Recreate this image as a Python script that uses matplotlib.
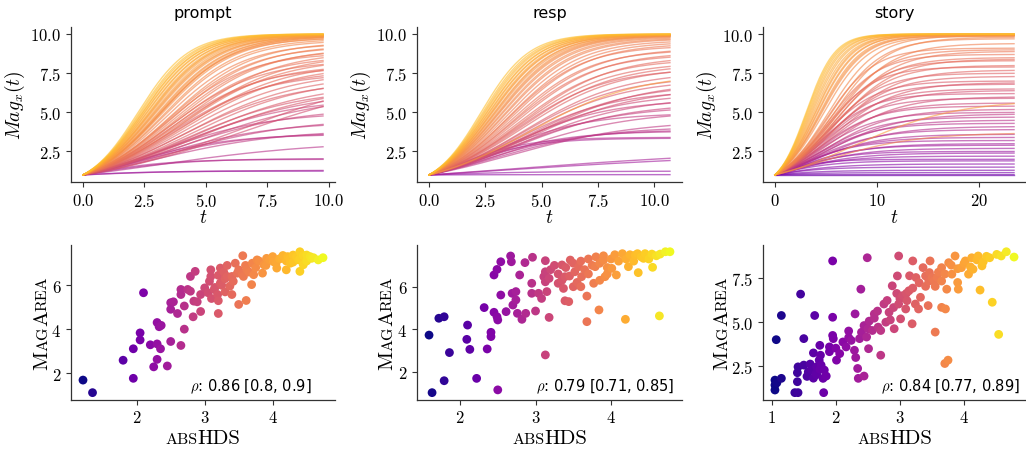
import matplotlib
matplotlib.use("Agg")
import matplotlib.pyplot as plt
import matplotlib.transforms as mtransforms
from matplotlib.ticker import MultipleLocator
import numpy as np

plt.rcParams["font.family"] = "cmr10"
plt.rcParams["mathtext.fontset"] = "cm"
plt.rcParams["axes.formatter.use_mathtext"] = True

# ---- scatter data (absHDS, MagArea) ----
prompt_hds = [1.21, 1.35, 1.95, 1.80, 1.95, 2.05, 2.05, 2.10, 2.20, 2.30, 2.33, 2.36, 2.30, 2.35,
              2.30, 2.25, 2.45, 2.50, 2.50, 2.54, 2.50, 2.60, 2.65, 2.70, 2.65, 2.65, 2.75, 2.70,
              2.79, 2.84, 2.79, 2.86, 2.83, 2.94, 2.89, 2.94, 3.00, 3.09, 3.09, 3.07, 3.05, 3.14,
              3.19, 3.20, 3.23, 3.23, 3.28, 3.33, 3.33, 3.37, 3.40, 3.42, 3.45, 3.48, 3.50, 3.56,
              3.61, 3.57, 3.62, 3.69, 3.72, 3.77, 3.85, 3.87, 3.91, 4.01, 4.06, 4.13, 4.20, 4.22,
              4.26, 4.30, 4.38, 4.40, 4.40, 4.45, 4.50, 4.57, 4.67, 4.74, 3.60, 3.70, 3.75, 3.80,
              3.90, 3.95, 4.00, 4.05, 4.10, 4.15, 4.20, 4.25, 4.30, 4.35, 4.40, 4.45, 4.50, 4.55,
              4.60, 3.50, 3.55, 3.65, 3.30, 3.20, 3.25, 3.15, 3.10, 3.20, 3.30, 3.40]
prompt_area = [1.70, 1.13, 1.78, 2.60, 3.12, 3.84, 3.52, 5.66, 3.30, 4.31, 4.12, 4.18, 3.34, 3.12,
               2.64, 2.30, 2.34, 3.45, 5.21, 5.25, 4.91, 4.72, 3.27, 4.01, 5.81, 5.58, 5.81, 5.06,
               5.73, 5.28, 6.40, 6.63, 4.57, 4.81, 5.25, 5.58, 5.88, 6.70, 6.40, 6.18, 5.66, 5.81,
               5.58, 4.72, 6.10, 6.78, 6.60, 6.90, 6.40, 5.96, 5.58, 6.18, 7.00, 6.55, 5.13, 7.34,
               5.31, 6.40, 6.70, 6.03, 6.48, 7.15, 6.55, 6.93, 7.22, 7.07, 6.78, 7.22, 6.70, 7.30,
               7.00, 7.37, 7.15, 7.52, 6.63, 6.93, 7.37, 7.22, 7.15, 7.25, 6.90, 7.00, 6.80, 7.10,
               6.90, 7.15, 7.30, 7.00, 7.20, 7.35, 7.10, 7.20, 7.05, 7.30, 7.20, 7.35, 7.10, 7.30,
               7.25, 6.70, 6.50, 6.60, 6.30, 6.45, 6.00, 5.90, 5.40, 5.30, 5.70, 6.40]

resp_hds = [1.59, 1.63, 1.72, 1.79, 1.79, 1.86, 2.09, 2.10, 2.13, 2.22, 2.32, 2.36, 2.41, 2.41,
            2.45, 2.45, 2.49, 2.50, 2.50, 2.49, 2.54, 2.54, 2.61, 2.67, 2.68, 2.69, 2.70, 2.74,
            2.74, 2.76, 2.79, 2.82, 2.86, 2.87, 2.95, 2.95, 2.96, 3.00, 3.04, 3.08, 3.11, 3.13,
            3.13, 3.15, 3.13, 3.18, 3.18, 3.13, 3.30, 3.35, 3.37, 3.39, 3.39, 3.44, 3.46, 3.52,
            3.57, 3.61, 3.68, 3.68, 3.77, 3.79, 3.84, 3.90, 3.92, 4.01, 4.07, 4.19, 4.23, 4.32,
            4.36, 4.43, 4.54, 4.55, 4.64, 4.65, 4.72, 4.78, 3.40, 3.50, 3.60, 3.65, 3.70, 3.75,
            3.80, 3.85, 3.90, 3.95, 4.00, 4.05, 4.10, 4.15, 4.20, 4.25, 4.30, 4.35, 4.40, 4.45,
            4.50, 4.60, 3.30, 3.35, 3.45, 3.55, 3.70, 3.85, 3.95, 3.25, 3.20, 3.50, 3.60]
resp_area = [3.73, 1.03, 4.52, 4.59, 1.59, 2.91, 3.53, 4.20, 3.06, 1.70, 5.02, 3.08, 3.86, 3.66,
             6.55, 4.80, 4.59, 4.44, 1.16, 6.81, 7.17, 5.61, 4.83, 7.44, 7.17, 5.69, 5.14, 5.77,
             5.38, 4.75, 6.55, 4.47, 7.13, 4.75, 6.16, 5.69, 7.38, 4.86, 5.69, 5.45, 6.47, 7.22,
             6.70, 5.77, 2.80, 6.39, 4.56, 6.23, 6.16, 7.02, 5.92, 6.47, 5.34, 5.30, 7.25, 6.70,
             6.94, 6.47, 5.56, 4.36, 6.16, 6.94, 4.91, 7.25, 6.47, 6.86, 6.55, 4.47, 6.94, 7.48,
             6.66, 7.33, 7.53, 6.91, 4.63, 7.53, 7.64, 7.64, 6.90, 7.10, 7.20, 6.80, 7.30, 7.00,
             7.40, 7.10, 7.45, 6.90, 7.30, 7.50, 7.20, 7.55, 7.30, 7.50, 7.20, 7.55, 7.40, 7.55,
             7.30, 7.45, 6.60, 6.30, 6.50, 6.20, 6.60, 6.30, 6.60, 7.00, 6.80, 6.00, 6.00]

story_hds = [1.07, 1.05, 1.05, 1.05, 1.08, 1.15, 1.15, 1.36, 1.41, 1.40, 1.40, 1.41, 1.45, 1.50,
             1.50, 1.57, 1.62, 1.65, 1.67, 1.69, 1.70, 1.74, 1.75, 1.76, 1.77, 1.80, 1.81, 1.82,
             1.85, 1.90, 1.95, 1.95, 1.95, 1.96, 2.01, 2.06, 2.11, 2.16, 2.20, 2.24, 2.29, 2.30,
             2.31, 2.34, 2.35, 2.37, 2.39, 2.44, 2.44, 2.48, 2.49, 2.51, 2.52, 2.60, 2.57, 2.66,
             2.70, 2.70, 2.75, 2.78, 2.83, 2.88, 2.91, 2.96, 2.98, 2.98, 3.01, 3.04, 3.09, 3.11,
             3.14, 3.19, 3.20, 3.24, 3.29, 3.32, 3.36, 3.40, 3.44, 3.47, 3.46, 3.55, 3.53, 3.58,
             3.65, 3.70, 3.75, 3.71, 3.65, 3.73, 3.76, 3.81, 3.86, 3.90, 3.91, 3.96, 4.02, 4.07,
             4.12, 4.14, 4.25, 4.22, 4.28, 4.40, 4.44, 4.51, 4.54, 4.58, 4.66, 4.78, 3.00, 3.10,
             3.20, 3.30, 3.40, 3.50, 3.60, 3.70, 3.80, 3.90, 4.00, 4.10, 4.20, 4.30, 4.35, 3.55,
             3.65, 3.45, 3.25, 3.15, 2.80, 2.90, 2.95, 2.85, 2.60, 2.65, 2.50, 2.40, 2.20, 2.00,
             1.90, 1.75, 1.60, 1.55, 1.65, 1.70]
story_area = [3.98, 1.69, 1.41, 1.13, 1.54, 1.79, 5.35, 0.98, 0.98, 1.60, 2.11, 2.44, 6.56, 4.04,
              2.54, 2.16, 2.26, 3.23, 5.35, 2.07, 2.44, 2.82, 3.66, 3.10, 2.54, 1.79, 0.98, 2.26,
              1.92, 3.57, 8.44, 5.25, 4.22, 4.04, 2.82, 3.19, 3.85, 3.57, 4.47, 3.94, 3.38, 5.44,
              2.97, 2.35, 1.79, 4.04, 6.84, 1.92, 4.78, 4.13, 8.62, 3.47, 5.03, 5.44, 4.50, 4.69,
              3.10, 4.50, 6.00, 4.97, 5.53, 7.03, 4.60, 7.59, 6.00, 8.72, 5.16, 6.47, 5.72, 6.19,
              6.75, 4.88, 8.44, 6.00, 5.72, 6.38, 8.06, 7.59, 5.91, 8.44, 7.78, 4.41, 7.31, 7.50,
              5.81, 2.63, 2.82, 5.72, 8.06, 6.84, 8.34, 7.69, 8.72, 7.22, 6.84, 8.06, 8.44, 7.69,
              8.62, 7.97, 6.79, 8.72, 8.16, 8.62, 6.10, 8.81, 4.28, 8.72, 8.96, 8.66, 6.30, 6.60,
              6.90, 7.20, 7.00, 7.50, 7.80, 7.70, 8.20, 8.00, 8.30, 8.10, 8.50, 8.40, 8.70, 7.00,
              7.30, 7.30, 7.50, 7.60, 6.20, 5.80, 6.60, 5.10, 5.20, 5.60, 4.60, 4.40, 4.10, 3.50,
              3.30, 2.30, 2.60, 1.90, 1.80, 2.00]

# ---- fitted curves: asymptote K, rate r, absHDS of the story (for colour) ----
prompt_K = [10.0, 10.0, 10.0, 9.98, 10.0, 9.97, 9.99, 9.95, 9.98, 9.96, 9.94, 9.97, 9.93, 9.95,
            9.9, 9.92, 9.9, 9.88, 9.9, 9.85, 9.87, 9.8, 9.75, 9.7, 9.6,
            9.5, 9.4, 9.3, 9.2, 9.1, 9.0, 8.9, 8.8, 8.7, 8.6, 8.45, 8.3, 8.2, 8.05, 8.0, 7.9,
            7.7, 7.6, 7.5, 7.4,
            7.2, 7.0, 6.9, 6.7, 6.5, 7.8, 7.4, 6.3, 6.1, 5.9,
            5.3, 5.0, 4.6, 4.4, 3.9, 3.7, 3.6, 3.2, 2.0, 2.05, 1.3, 1.25]
prompt_rate = [0.98, 0.95, 0.93, 0.91, 0.9, 0.88, 0.87, 0.85, 0.84, 0.82, 0.81, 0.8, 0.79, 0.77,
               0.76, 0.75, 0.74, 0.72, 0.71, 0.7, 0.69, 0.68, 0.7, 0.66, 0.65,
               0.6, 0.63, 0.58, 0.6, 0.55, 0.57, 0.52, 0.6, 0.5, 0.55, 0.5, 0.56, 0.48, 0.53,
               0.47, 0.55, 0.5, 0.46, 0.52, 0.44,
               0.42, 0.45, 0.4, 0.38, 0.42, 0.3, 0.29, 0.4, 0.37, 0.42,
               0.4, 0.45, 0.38, 0.42, 0.38, 0.45, 0.5, 0.28, 0.6, 0.5, 0.35, 0.5]
prompt_col = [4.75, 4.7, 4.65, 4.6, 4.55, 4.5, 4.45, 4.42, 4.38, 4.35, 4.3, 4.27, 4.22, 4.2,
              4.15, 4.12, 4.08, 4.05, 4.02, 3.98, 3.95, 3.92, 3.9, 3.86, 3.82,
              3.75, 3.72, 3.68, 3.62, 3.6, 3.55, 3.5, 3.48, 3.45, 3.42, 3.4, 3.36, 3.33, 3.3,
              3.28, 3.25, 3.2, 3.15, 3.12, 3.1,
              3.05, 3.0, 2.95, 2.9, 2.85, 2.8, 2.75, 2.7, 2.6, 2.55,
              2.5, 2.45, 2.4, 2.35, 2.3, 2.25, 2.2, 2.1, 2.05, 1.95, 1.8, 1.35]

resp_K = [10.0, 10.0, 9.98, 10.0, 9.97, 9.99, 9.95, 9.98, 9.96, 9.94, 9.97, 9.93, 9.95, 9.9,
          9.92, 9.9, 9.88, 9.85, 9.8, 9.75, 9.7,
          9.6, 9.5, 9.4, 9.25, 9.1, 9.0, 8.85, 8.7, 8.6, 8.4, 8.2, 8.1,
          7.9, 7.8, 7.6, 7.5, 7.3, 7.1, 7.0, 6.8, 6.6, 6.4, 6.2, 6.0, 5.8, 5.6,
          5.4, 5.1, 4.95, 4.5, 4.1, 3.9, 3.8, 3.4, 3.35, 2.7, 2.5, 1.25, 1.02]
resp_rate = [0.95, 0.92, 0.9, 0.88, 0.86, 0.85, 0.83, 0.82, 0.8, 0.79, 0.78, 0.76, 0.75, 0.74,
             0.72, 0.71, 0.7, 0.68, 0.67, 0.65, 0.64,
             0.62, 0.6, 0.58, 0.6, 0.55, 0.57, 0.53, 0.55, 0.5, 0.52, 0.5, 0.48,
             0.47, 0.5, 0.45, 0.42, 0.45, 0.44, 0.4, 0.42, 0.4, 0.45, 0.43, 0.4, 0.45, 0.4,
             0.42, 0.38, 0.48, 0.35, 0.4, 0.45, 0.5, 0.65, 0.6, 0.16, 0.15, 0.3, 0.5]
resp_col = [4.78, 4.7, 4.65, 4.6, 4.55, 4.5, 4.45, 4.4, 4.35, 4.3, 4.25, 4.2, 4.15, 4.1,
            4.05, 4.0, 3.97, 3.93, 3.9, 3.85, 3.8,
            3.75, 3.72, 3.68, 3.62, 3.58, 3.55, 3.5, 3.45, 3.42, 3.38, 3.35, 3.3,
            3.25, 3.2, 3.15, 4.3, 3.1, 3.05, 3.0, 2.95, 2.9, 2.85, 2.8, 2.75, 2.7, 2.65,
            2.6, 2.55, 2.5, 2.45, 2.4, 2.35, 2.3, 2.2, 2.1, 2.0, 1.85, 1.7, 1.6]

story_K = [10, 10, 10, 9.98, 10, 9.97, 9.99, 9.95, 9.98, 9.96, 9.94, 9.97, 9.92, 9.9, 9.9, 9.85,
           9.9, 9.8, 9.7, 9.4, 9.1, 9.0, 8.9, 8.7, 8.5, 8.4, 8.3, 8.0, 7.9, 7.7, 7.5, 7.3,
           7.0, 6.9, 6.8,
           6.5, 6.4, 6.2, 6.0, 5.9, 5.8, 5.6, 5.4, 5.2, 5.0, 4.9, 4.7, 4.5, 4.3, 4.1, 3.9,
           3.7, 3.6,
           3.4, 3.2, 3.0, 2.9, 2.7, 2.5, 2.4, 2.2, 2.0, 1.9, 1.7, 1.5, 1.3, 1.15, 1.02, 1.0]
story_rate = [0.72, 0.7, 0.68, 0.66, 0.64, 0.62, 0.6, 0.58, 0.56, 0.55, 0.53, 0.52, 0.5, 0.49,
              0.48, 0.46,
              0.42, 0.38, 0.4, 0.36, 0.42, 0.38, 0.35, 0.4, 0.36, 0.34, 0.38, 0.35, 0.4, 0.33,
              0.37, 0.34, 0.38, 0.32, 0.36,
              0.35, 0.32, 0.38, 0.3, 0.36, 0.2, 0.33, 0.35, 0.3, 0.34, 0.28, 0.32, 0.3, 0.33,
              0.28, 0.31, 0.22, 0.3,
              0.32, 0.35, 0.3, 0.33, 0.3, 0.35, 0.3, 0.32, 0.45, 0.35, 0.3, 0.35, 0.3, 0.3,
              0.3, 0.3]
story_col = [4.8, 4.7, 4.65, 4.6, 4.55, 4.5, 4.45, 4.4, 4.35, 4.3, 4.25, 4.2, 4.15, 4.1, 4.05,
             4.0,
             3.95, 3.9, 3.85, 3.8, 3.75, 3.7, 3.65, 3.6, 3.55, 3.5, 3.45, 3.4, 3.35, 3.3, 3.25,
             3.2, 3.15, 3.1, 3.05,
             3.0, 2.95, 2.9, 2.85, 2.8, 4.3, 2.75, 2.7, 2.6, 2.5, 2.45, 2.4, 2.35, 2.3, 2.25,
             2.2, 3.9, 2.15,
             2.1, 2.0, 1.95, 1.9, 1.85, 1.8, 1.75, 1.7, 1.6, 1.55, 1.5, 1.4, 1.3, 1.2, 1.1, 1.05]

titles = ["prompt", "resp", "story"]
t_end = [9.76, 10.7, 23.4]
rho_text = [r"$\rho$: 0.86 [0.8, 0.9]", r"$\rho$: 0.79 [0.71, 0.85]", r"$\rho$: 0.84 [0.77, 0.89]"]

panels = [
    (prompt_hds, prompt_area, prompt_K, prompt_rate, prompt_col),
    (resp_hds, resp_area, resp_K, resp_rate, resp_col),
    (story_hds, story_area, story_K, story_rate, story_col),
]

W, H = 1026, 452
fig = plt.figure(figsize=(W / 100, H / 100), dpi=100)

# axes boxes in pixels: left, right
cols = [(71, 335), (417, 682), (763, 1026)]
label_off = [24, 25, 36]
area_step = [2, 2, 2.5]
lowest_col = [0.3, 0.3, 0.2]
cmap = plt.get_cmap("plasma")


def logistic(t, K, r):
    return K / (1 + (K - 1) * np.exp(-r * t))


def style(ax):
    for s in ["top", "right"]:
        ax.spines[s].set_visible(False)
    for s in ["left", "bottom"]:
        ax.spines[s].set_color("0.2")
        ax.spines[s].set_linewidth(0.9)
    ax.tick_params(direction="out", length=3.5, width=0.8, color="0.2", labelsize=12)


def smallcaps(pieces, xc, yc, rotation):
    rend = fig.canvas.get_renderer()
    texts, lens = [], []
    for s, fs in pieces:
        tx = fig.text(0, 0, s, fontsize=fs, rotation=rotation, rotation_mode="anchor",
                      ha="left", va="baseline", transform=mtransforms.IdentityTransform())
        bb = tx.get_window_extent(rend)
        texts.append(tx)
        lens.append(bb.height if rotation else bb.width)
    pos = -sum(lens) / 2
    for tx, ln in zip(texts, lens):
        if rotation:
            tx.set_position((xc, yc + pos))
        else:
            tx.set_position((xc + pos, yc))
        pos += ln


for i, (hds, area, K, rate, col) in enumerate(panels):
    left, right = cols[i]
    w = right - left
    norm = plt.Normalize(min(hds), max(hds))

    # top row: magnitude curves
    ax = fig.add_axes([left / W, 1 - 183 / H, w / W, 155 / H])
    t = np.linspace(0, t_end[i], 200)
    cmin, cmax = min(col), max(col)
    lo = lowest_col[i]
    for j in np.argsort(col):
        c = cmap(lo + (0.86 - lo) * (col[j] - cmin) / (cmax - cmin))
        ax.plot(t, logistic(t, K[j], rate[j]), color=c, lw=1.0, alpha=0.6)
    style(ax)
    ax.yaxis.set_major_locator(MultipleLocator(2.5))
    ax.set_title(titles[i], family="DejaVu Sans", fontsize=11.5, pad=7)
    ax.set_ylabel(r"$Mag_x(t)$", fontsize=14)
    ax.yaxis.set_label_coords(-44 / w, 0.5)
    ax.set_xlabel(r"$t$", fontsize=14)
    ax.xaxis.set_label_coords(0.5, -0.17)

    # bottom row: scatter
    bx = fig.add_axes([left / W, 1 - 400.7 / H, w / W, 155 / H])
    o = np.argsort(hds)
    bx.scatter(np.array(hds)[o], np.array(area)[o], c=np.array(hds)[o], cmap="plasma",
               norm=norm, s=40, edgecolors="none")
    style(bx)
    bx.yaxis.set_major_locator(MultipleLocator(area_step[i]))
    bx.text(0.45, 0.058, rho_text[i], transform=bx.transAxes, family="DejaVu Sans",
            fontsize=10.5, ha="left", va="baseline")

    smallcaps([("ABS", 11.5), ("HDS", 15)], (left + right) / 2, 7.7, 0)
    smallcaps([("M", 15), ("AG", 11.5), ("A", 15), ("REA", 11.5)], left - label_off[i], H - 323, 90)

fig.savefig("out.png", dpi=100)
